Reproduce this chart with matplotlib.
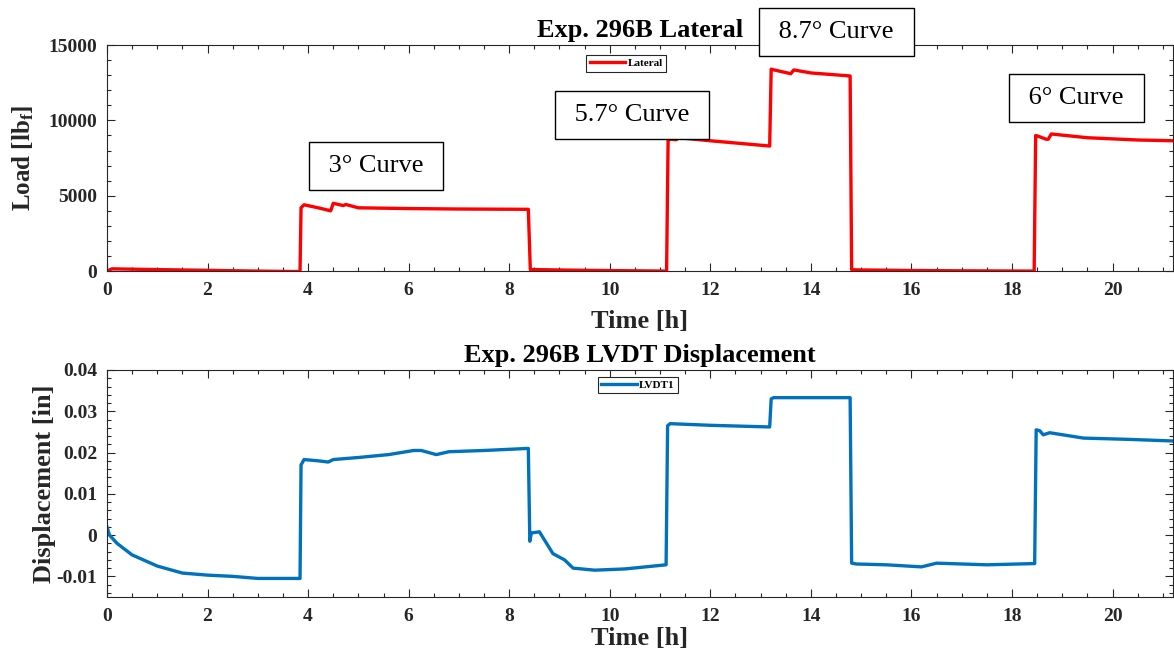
import matplotlib
matplotlib.use('Agg')
from matplotlib import rcParams
rcParams['font.family'] = 'Liberation Serif'
rcParams['mathtext.fontset'] = 'custom'
rcParams['mathtext.rm'] = 'Liberation Serif'
rcParams['mathtext.bf'] = 'Liberation Serif:bold'
rcParams['mathtext.default'] = 'bf'

import matplotlib.pyplot as plt
from matplotlib.ticker import MultipleLocator

# Lateral load (time in h, load in lbf)
lat_t = [0.0, 0.1, 1.0, 2.0, 3.0, 3.84, 3.86, 3.92, 4.2, 4.45, 4.5, 4.7, 4.75, 5.0, 6.0, 7.0, 8.38,
         8.42, 8.5, 9.5, 10.5, 11.13, 11.16, 11.22, 11.32, 11.37, 12.0, 13.18,
         13.21, 13.27, 13.6, 13.66, 14.0, 14.78, 14.81, 14.9, 16.0, 17.0, 18.44,
         18.47, 18.52, 18.68, 18.72, 18.78, 19.5, 20.5, 21.2]
lat_v = [0, 150, 100, 50, 0, -30, 4200, 4400, 4200, 4000, 4500, 4350, 4420, 4200, 4150, 4120, 4100,
         100, 100, 50, 20, 0, 8700, 8750, 8720, 8850, 8650, 8300,
         13400, 13350, 13100, 13350, 13150, 12950, 100, 80, 40, 20, 0,
         9000, 8950, 8750, 8750, 9100, 8850, 8700, 8650]

# LVDT1 displacement (in)
lvdt_t = [0.0, 0.05, 0.2, 0.5, 1.0, 1.5, 2.0, 2.5, 3.0, 3.5, 3.84, 3.86, 3.92, 4.2, 4.4, 4.5, 5.0,
          5.6, 6.1, 6.25, 6.55, 6.8, 7.5, 8.38, 8.41, 8.44, 8.6, 8.87, 9.1, 9.27, 9.7, 10.3, 11.12,
          11.15, 11.2, 12.0, 13.18, 13.21, 13.26, 14.0, 14.78, 14.81, 14.9, 15.5, 16.2, 16.5,
          17.5, 18.45, 18.48, 18.55, 18.62, 18.75, 19.42, 20.3, 21.2]
lvdt_v = [0.002, 0.0, -0.002, -0.0048, -0.0075, -0.0092, -0.0097, -0.01, -0.0105, -0.0105, -0.0105,
          0.017, 0.0183, 0.018, 0.0177, 0.0183, 0.0188,
          0.0195, 0.0205, 0.0205, 0.0195, 0.0202, 0.0205, 0.021, -0.0015, 0.0005, 0.0008, -0.0045,
          -0.006, -0.008, -0.0085, -0.0082, -0.0072,
          0.0265, 0.027, 0.0266, 0.0262, 0.033, 0.0333, 0.0333, 0.0333, -0.0068, -0.007, -0.0072,
          -0.0077, -0.0068, -0.0072, -0.0069, 0.0255, 0.0253, 0.0243, 0.0248, 0.0235, 0.0232, 0.0228]

# Curve labels (text, time, load)
curve_text = ['3\u00b0 Curve', '5.7\u00b0 Curve', '8.7\u00b0 Curve', '6\u00b0 Curve']
curve_t = [5.35, 10.44, 14.51, 19.28]
curve_v = [6970, 10350, 15860, 11480]

grey = '#262626'


def style_axis(ax, xlabel, ylabel, title, ysize, xpad, ypad):
    ax.set_xlim(0, 21.2)
    ax.xaxis.set_major_locator(MultipleLocator(2))
    ax.xaxis.set_minor_locator(MultipleLocator(0.5))
    ax.tick_params(which='both', direction='in', top=True, right=True, colors=grey,
                   labelsize=14, width=0.8)
    ax.tick_params(which='major', length=6)
    ax.tick_params(which='minor', length=3)
    ax.tick_params(axis='x', which='major', pad=8)
    ax.tick_params(axis='y', which='major', pad=7)
    for lab in ax.get_xticklabels() + ax.get_yticklabels():
        lab.set_fontweight('bold')
    for sp in ax.spines.values():
        sp.set_color(grey)
        sp.set_linewidth(0.8)
    ax.set_xlabel(xlabel, fontsize=19, fontweight='bold', labelpad=xpad, color=grey)
    ax.set_ylabel(ylabel, fontsize=ysize, fontweight='bold', labelpad=ypad, color=grey)
    ax.set_title(title, fontsize=19, fontweight='bold', pad=6)


def add_legend(ax, x, y):
    leg = ax.legend(loc='upper center', bbox_to_anchor=(x, y), fancybox=False,
                    prop={'size': 8, 'weight': 'bold'}, handlelength=3.2, borderpad=0.3,
                    handletextpad=0.2, borderaxespad=0)
    leg.get_frame().set_edgecolor(grey)
    leg.get_frame().set_linewidth(0.8)
    leg.get_frame().set_alpha(1)


fig = plt.figure(figsize=(11.74, 6.58), dpi=100)

# Top: lateral load
ax1 = fig.add_axes([0.0911, 0.588, 0.908, 0.3435])
ax1.plot(lat_t, lat_v, color='#ff0000', linewidth=2.4, label='Lateral')
ax1.set_ylim(0, 15000)
ax1.yaxis.set_major_locator(MultipleLocator(5000))
ax1.yaxis.set_minor_locator(MultipleLocator(1000))
style_axis(ax1, 'Time [h]', 'Load [lb$_f$]', 'Exp. 296B Lateral', 18, 8, 9)
add_legend(ax1, 0.487, 0.955)

for txt, t, v in zip(curve_text, curve_t, curve_v):
    ax1.text(t, v, ' ' + txt + ' ', fontsize=19, ha='center', va='center', clip_on=False,
             zorder=5, bbox=dict(boxstyle='square,pad=0.5', facecolor='white',
                                 edgecolor='black', linewidth=1))

# Bottom: LVDT displacement
ax2 = fig.add_axes([0.0911, 0.0927, 0.908, 0.345])
ax2.plot(lvdt_t, lvdt_v, color='#0072bd', linewidth=2.4, label='LVDT1')
ax2.set_ylim(-0.015, 0.04)
ax2.yaxis.set_minor_locator(MultipleLocator(0.002))
ax2.set_yticks([-0.01, 0, 0.01, 0.02, 0.03, 0.04])
ax2.set_yticklabels(['-0.01', '0', '0.01', '0.02', '0.03', '0.04'])
style_axis(ax2, 'Time [h]', 'Displacement [in]', 'Exp. 296B LVDT Displacement', 19, 1, 0)
add_legend(ax2, 0.498, 0.97)

fig.savefig('out.png', dpi=100)
